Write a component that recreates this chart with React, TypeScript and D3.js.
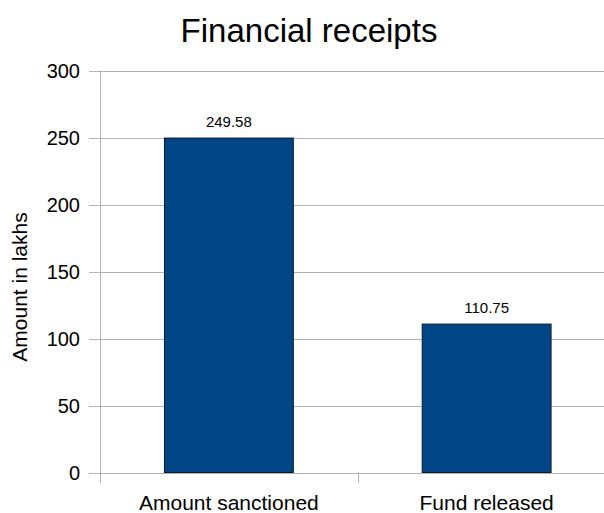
import React from "react";
import * as d3 from "d3";

const title = "Financial receipts";
const yAxisTitle = "Amount in lakhs";
const categories = ["Amount sanctioned", "Fund released"];
const values = [249.58, 110.75];
const yTicks = [0, 50, 100, 150, 200, 250, 300];

export default function App() {
  const W = 604;
  const H = 513;
  const left = 100;
  const right = 615.5;
  const top = 70.5;
  const bottom = 472.5;
  const font = "'Liberation Sans', Arial, sans-serif";

  const y = d3.scaleLinear().domain([0, 300]).range([bottom, top]);
  const x = d3.scaleBand<string>().domain(categories).range([left, right]).padding(0);
  const bw = x.bandwidth() * 0.5;

  return (
    <svg
      width={W}
      height={H}
      style={{ position: "absolute", left: 0, top: 0, display: "block", background: "#fff" }}
      fontFamily={font}
    >
      <rect x={0} y={0} width={W} height={H} fill="#fff" />
      <text x={309} y={42} fontSize={33} textAnchor="middle" fill="#000">
        {title}
      </text>
      {yTicks.map((t) => (
        <g key={t}>
          <line x1={89} x2={right} y1={Math.round(y(t)) + 0.5} y2={Math.round(y(t)) + 0.5} stroke="#b3b3b3" strokeWidth={1} />
          <text x={80} y={y(t) + 7} fontSize={20} textAnchor="end" fill="#000">
            {t}
          </text>
        </g>
      ))}
      <line x1={100.5} x2={100.5} y1={top} y2={483} stroke="#b3b3b3" strokeWidth={1} />
      {categories.slice(1).map((c) => (
        <line key={c} x1={Math.round(x(c)!) + 0.5} x2={Math.round(x(c)!) + 0.5} y1={bottom} y2={483} stroke="#b3b3b3" strokeWidth={1} />
      ))}
      {categories.map((c, i) => {
        const cx = x(c)! + x.bandwidth() / 2;
        const v = values[i];
        return (
          <g key={c}>
            <rect
              x={cx - bw / 2}
              y={y(v)}
              width={bw}
              height={bottom - y(v)}
              fill="#004586"
              stroke="#0b1a2b"
              strokeWidth={1}
            />
            <text x={cx} y={y(v) - 11} fontSize={15} textAnchor="middle" fill="#000">
              {v.toFixed(2)}
            </text>
            <text x={cx} y={510} fontSize={21} textAnchor="middle" fill="#000">
              {c}
            </text>
          </g>
        );
      })}
      <text
        transform={`translate(27,287) rotate(-90)`}
        fontSize={21}
        textAnchor="middle"
        fill="#000"
      >
        {yAxisTitle}
      </text>
    </svg>
  );
}
